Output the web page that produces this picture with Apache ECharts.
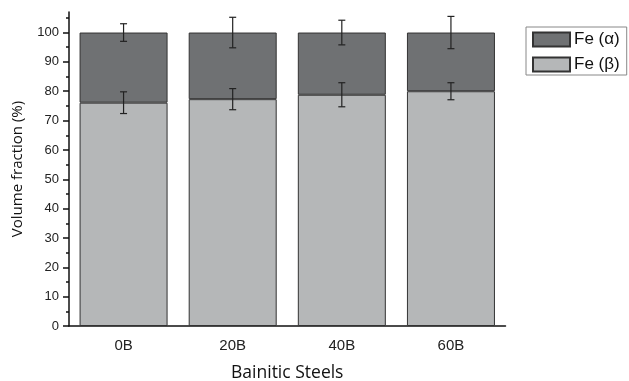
<!DOCTYPE html>
<html><head><meta charset="utf-8">
<script src="https://cdn.jsdelivr.net/npm/echarts@6/dist/echarts.min.js"></script>
<style>html,body{margin:0;padding:0;background:#fff}#c{width:629px;height:381px}</style>
</head><body><div id="c"></div>
<script>
const categories = ['0B', '20B', '40B', '60B'];
const feBeta = [76.1, 77.3, 78.8, 80.0];
const feAlpha = [23.9, 22.7, 21.2, 20.0];
const errBeta = [3.7, 3.6, 4.1, 2.9];
const errAlpha = [3.0, 5.2, 4.2, 5.5];
const yTicks = [0, 10, 20, 30, 40, 50, 60, 70, 80, 90, 100];
const yMinorTicks = [5, 15, 25, 35, 45, 55, 65, 75, 85, 95, 105];

const chart = echarts.init(document.getElementById('c'));
const errData = [];
categories.forEach((c, i) => {
  errData.push([i, feBeta[i], errBeta[i]]);
  errData.push([i, feBeta[i] + feAlpha[i], errAlpha[i]]);
});
const axisFont = 'Liberation Sans';
chart.setOption({
  animation: false,
  legend: {
    orient: 'vertical', left: 526, top: 27,
    data: ['Fe (α)', 'Fe (β)'],
    itemWidth: 37, itemHeight: 14, itemGap: 8,
    borderColor: '#888', borderWidth: 1, padding: [4, 7, 2, 6],
    icon: 'rect',
    textStyle: { fontFamily: axisFont, fontSize: 17, color: '#111', padding: [0, 0, 0, -1] }
  },
  grid: { left: 69, right: 123.5, top: 12, bottom: 55, outerBoundsMode: 'none', containLabel: false },
  xAxis: [{
    type: 'category', data: categories,
    axisLine: { lineStyle: { color: '#111', width: 1.5 } },
    axisTick: { alignWithLabel: true, length: 6, lineStyle: { color: '#111', width: 1.5 } },
    axisLabel: { fontFamily: axisFont, fontSize: 15, color: '#222', margin: 12 },
    name: 'Bainitic Steels', nameLocation: 'middle', nameGap: 38,
    nameTextStyle: { fontFamily: 'Open Sans', fontSize: 17.5, color: '#111' }
  }, {
    type: 'category', data: categories, position: 'bottom',
    axisLine: { show: false },
    axisTick: { alignWithLabel: false, length: 4, lineStyle: { color: '#111', width: 1.5 } },
    axisLabel: { show: false }
  }],
  yAxis: [{
    type: 'value', min: 0, max: 107, interval: 10,
    axisLine: { show: true, lineStyle: { color: '#111', width: 1.5 } },
    axisTick: { show: true, length: 6, lineStyle: { color: '#111', width: 1.5 },
      customValues: yTicks },
    splitLine: { show: false },
    axisLabel: { fontFamily: axisFont, fontSize: 13, color: '#222', margin: 10,
      customValues: yTicks },
    name: 'Volume fraction (%)', nameLocation: 'middle', nameGap: 44,
    nameTextStyle: { fontFamily: 'Open Sans', fontSize: 15, color: '#111' }
  }, {
    type: 'value', min: 0, max: 107, interval: 10, position: 'left',
    axisLine: { show: false },
    axisTick: { show: true, length: 3, lineStyle: { color: '#111', width: 1.5 },
      customValues: yMinorTicks },
    splitLine: { show: false },
    axisLabel: { show: false }
  }],
  series: [{
    name: 'Fe (β)', type: 'bar', stack: 's', data: feBeta, barWidth: 88,
    itemStyle: { color: '#b5b7b8', borderColor: '#333', borderWidth: 1 }
  }, {
    name: 'Fe (α)', type: 'bar', stack: 's', data: feAlpha, barWidth: 88,
    itemStyle: { color: '#6f7173', borderColor: '#333', borderWidth: 1 }
  }, {
    type: 'custom', data: errData, z: 10,
    renderItem: function (params, api) {
      const x = api.value(0), y = api.value(1), e = api.value(2);
      const hi = api.coord([x, y + e]);
      const lo = api.coord([x, y - e]);
      const w = 3.5;
      const st = { stroke: '#222', lineWidth: 1.2 };
      return { type: 'group', children: [
        { type: 'line', shape: { x1: hi[0], y1: hi[1], x2: lo[0], y2: lo[1] }, style: st },
        { type: 'line', shape: { x1: hi[0] - w, y1: hi[1], x2: hi[0] + w, y2: hi[1] }, style: st },
        { type: 'line', shape: { x1: lo[0] - w, y1: lo[1], x2: lo[0] + w, y2: lo[1] }, style: st }
      ]};
    }
  }]
});
</script></body></html>
